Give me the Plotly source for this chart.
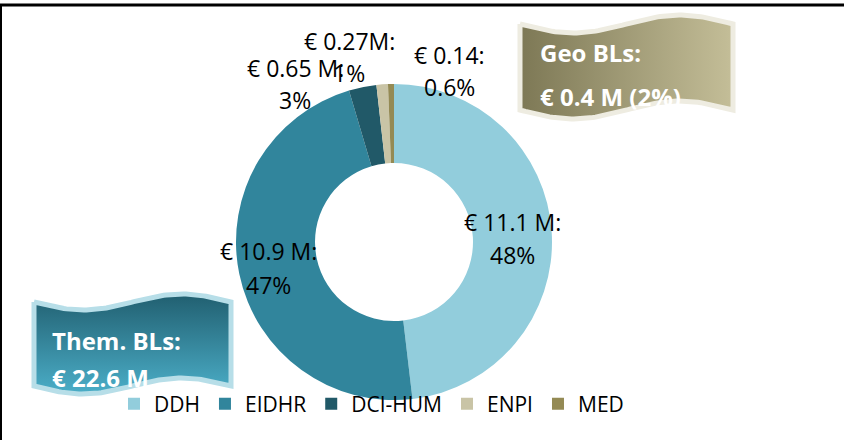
import numpy as np
import plotly.graph_objects as go

# ---- data ----
categories = ["DDH", "EIDHR", "DCI-HUM", "ENPI", "MED"]
values_meur = [11.1, 10.9, 0.65, 0.27, 0.14]
amount_labels = ["€ 11.1 M:", "€ 10.9 M:", "€ 0.65 M:", "€ 0.27M:", "€ 0.14:"]
percent_labels = ["48%", "47%", "3%", "1%", "0.6%"]
banner_titles = ["Them. BLs:", "Geo BLs:"]
banner_values = ["€ 22.6 M", "€ 0.4 M (2%)"]

# ---- style ----
colors = ["#92CDDC", "#31859C", "#215968", "#C9C4A6", "#948A54"]
FONT = "Open Sans"
W, H = 844, 440

fig = go.Figure()


def wave(x0, x1, ytop, ybot, amp, n=80):
    xs = np.linspace(x0, x1, n)
    t = (xs - x0) / (x1 - x0)
    top = ytop + amp * np.sin(2 * np.pi * t)
    bot = ybot + amp * np.sin(2 * np.pi * t)
    X = np.concatenate([xs, xs[::-1], xs[:1]])
    Y = np.concatenate([top, bot[::-1], top[:1]])
    return X, Y


# banner shapes (decorative, drawn in pixel space on hidden axes)
bx, by = wave(34, 231, 302, 386, 8)
fig.add_trace(go.Scatter(
    x=bx, y=by, mode="lines", fill="toself",
    fillgradient=dict(type="vertical", start=294, stop=394,
                      colorscale=[[0, "#215F70"], [1, "#4BAEC8"]]),
    line=dict(color="#B7DEE8", width=5), hoverinfo="skip", showlegend=False))
gx, gy = wave(520, 733, 24, 110, 9)
fig.add_trace(go.Scatter(
    x=gx, y=gy, mode="lines", fill="toself",
    fillgradient=dict(type="horizontal", start=520, stop=733,
                      colorscale=[[0, "#7D7855"], [1, "#C4BE98"]]),
    line=dict(color="#EEECE1", width=5), hoverinfo="skip", showlegend=False))

# donut
cx, cy, R = 394, 242, 158
fig.add_trace(go.Pie(
    labels=categories, values=values_meur, hole=0.5, sort=False,
    direction="clockwise", rotation=0,
    marker=dict(colors=colors, line=dict(width=0)),
    textinfo="none", hoverinfo="label+value+percent",
    domain=dict(x=[(cx - R) / W, (cx + R) / W], y=[(H - cy - R) / H, (H - cy + R) / H]),
))

# data label positions (pixel space): line 1 and line 2 centres
label_pos = [(512, 222, 255), (268, 251, 285), (295, 68, 100), (349, 41, 73), (449, 55, 87)]
annotations = []
for (x, y1, y2), a, p in zip(label_pos, amount_labels, percent_labels):
    annotations.append(dict(x=x, y=y1, xref="x", yref="y", text=a, showarrow=False,
                            font=dict(family=FONT, size=23, color="#000000"),
                            xanchor="center", yanchor="middle"))
    annotations.append(dict(x=x, y=y2, xref="x", yref="y", text=p, showarrow=False,
                            font=dict(family=FONT, size=23, color="#000000"),
                            xanchor="center", yanchor="middle"))

banner_pos = [(50, 340, 377), (538, 52, 96)]
for (x, y1, y2), t, v in zip(banner_pos, banner_titles, banner_values):
    annotations.append(dict(x=x, y=y1, xref="x", yref="y", text="<b>%s</b>" % t, showarrow=False,
                            font=dict(family=FONT, size=24, color="#FFFFFF"),
                            xanchor="left", yanchor="middle"))
    annotations.append(dict(x=x, y=y2, xref="x", yref="y", text="<b>%s</b>" % v, showarrow=False,
                            font=dict(family=FONT, size=24, color="#FFFFFF"),
                            xanchor="left", yanchor="middle"))

shapes = [
    dict(type="line", xref="x", yref="y", x0=0, x1=W, y0=5, y1=5, line=dict(color="#000000", width=3)),
    dict(type="line", xref="x", yref="y", x0=1, x1=1, y0=5, y1=H, line=dict(color="#000000", width=2)),
]

fig.update_layout(
    width=W, height=H, margin=dict(l=0, r=0, t=0, b=0),
    paper_bgcolor="#FFFFFF", plot_bgcolor="rgba(0,0,0,0)",
    xaxis=dict(range=[0, W], visible=False, fixedrange=True, domain=[0, 1]),
    yaxis=dict(range=[H, 0], visible=False, fixedrange=True, domain=[0, 1]),
    showlegend=True,
    legend=dict(orientation="h", x=114 / W, xanchor="left", y=(H - 404) / H, yanchor="middle",
                font=dict(family=FONT, size=21, color="#000000"), bgcolor="rgba(0,0,0,0)",
                traceorder="normal"),
    annotations=annotations, shapes=shapes,
    font=dict(family=FONT),
)

fig.write_html("out.html", config={"displayModeBar": False},
               post_script="document.body.style.margin='0';document.body.style.padding='0';"
                           "document.body.style.overflow='hidden';")
